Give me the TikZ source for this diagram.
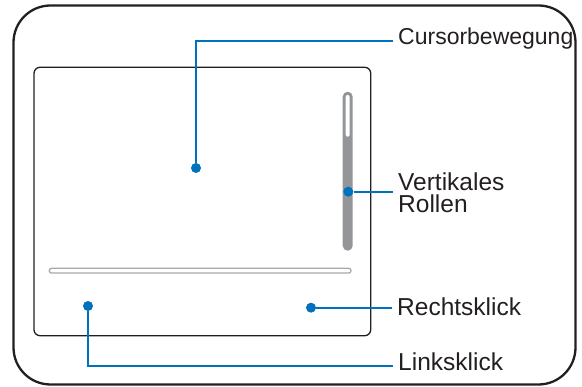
\documentclass[tikz,border=0pt]{standalone}
\usepackage{fontspec}
\setmainfont{Liberation Sans}
\usetikzlibrary{positioning}
\definecolor{tpblue}{HTML}{0071BC}
\definecolor{tpgrey}{HTML}{939598}
\definecolor{tplight}{HTML}{A7A9AC}
\definecolor{tpink}{HTML}{231F20}
\tikzset{
  frame/.style={draw=tpink,line width=2.3pt,rounded corners=37pt},
  pad/.style={draw=tpink,line width=1.3pt,rounded corners=6pt},
  dot/.style={circle,fill=tpblue,inner sep=0pt,minimum size=10pt},
  lead/.style={draw=tpblue,line width=1.8pt},
  lbl/.style={font=\fontsize{24.5}{22.5}\selectfont,text=tpink,inner xsep=5pt,inner ysep=0pt,align=left,anchor=base west},
}
\begin{document}
\begin{tikzpicture}[x=1pt,y=-1pt]
  \useasboundingbox (0,0) rectangle (582,387);
  % housing and touch surface
  \draw[frame] (13.5,5.5) rectangle (575.5,384.5);
  \draw[pad] (34,67.3) rectangle (370.7,335.7);
  % scroll strip and button divider
  \fill[tpgrey,rounded corners=5pt] (342.7,91.7) rectangle (352.7,250.7);
  \fill[white,rounded corners=2pt] (345.7,95) rectangle (349.7,136.7);
  \draw[tplight,fill=white,line width=1.3pt,rounded corners=2.2pt] (49.3,268.3) rectangle (351,273.1);
  % points
  \node[dot] (cur) at (196,168) {};
  \node[dot] (rol) at (348.3,191.7) {};
  \node[dot] (rk) at (311,307.7) {};
  \node[dot] (lk) at (88,306) {};
  % labels
  \node[lbl,font=\fontsize{23}{22.5}\selectfont] (curlbl) at (393,45) {Cursorbewegung};
  \node[lbl] (rollbl) at (393,212.7) {Vertikales\\Rollen};
  \node[lbl] (rklbl) at (392,315.7) {Rechtsklick};
  \node[lbl] (lklbl) at (393,370.7) {Linksklick};
  % leaders
  \draw[lead] (cur) |- ([yshift=-2pt]curlbl.west);
  \draw[lead] (rol) -- (rol -| rollbl.west);
  \draw[lead] (rk) -- (rk -| rklbl.west);
  \draw[lead] (lk) |- ([yshift=-4.2pt]lklbl.west);
\end{tikzpicture}
\end{document}
